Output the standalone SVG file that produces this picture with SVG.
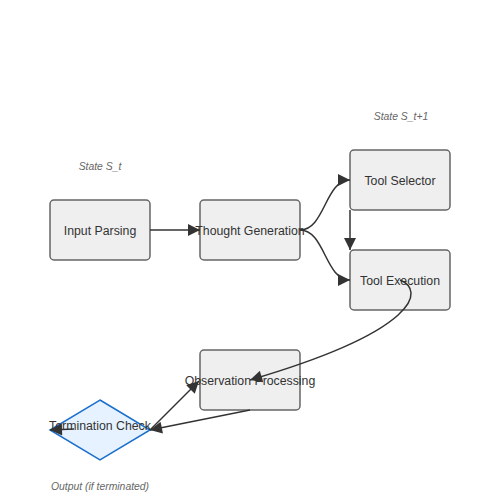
<svg xmlns="http://www.w3.org/2000/svg" width="500" height="500" viewBox="0 0 500 500">
<defs>
<marker id="arr" viewBox="0 0 10 10" refX="10" refY="5" markerWidth="15" markerHeight="12" markerUnits="userSpaceOnUse" orient="auto">
<path d="M0,0 L10,5 L0,10 Z" fill="#333"/>
</marker>
<style>
.box{fill:#efefef;stroke:#666;stroke-width:1.5}
.dia{fill:#e6f2ff;stroke:#1a6fcc;stroke-width:1.5}
.lbl{font-family:"Liberation Sans",Arial,sans-serif;font-size:12.3px;fill:#333;text-anchor:middle}
.note{font-family:"Liberation Sans",Arial,sans-serif;font-size:10.4px;font-style:italic;fill:#666;text-anchor:middle}
.edge{fill:none;stroke:#333;stroke-width:1.5;marker-end:url(#arr)}
</style>
</defs>
<rect width="500" height="500" fill="#fff"/>
<g id="notes">
<text class="note" x="100" y="170">State S_t</text>
<text class="note" x="401" y="120">State S_t+1</text>
<text class="note" x="100" y="490">Output (if terminated)</text>
</g>
<g id="n-input"><rect class="box" x="50" y="200" width="100" height="60" rx="4"/><text class="lbl" x="100" y="235">Input Parsing</text></g>
<g id="n-thought"><rect class="box" x="200" y="200" width="100" height="60" rx="4"/><text class="lbl" x="250" y="235">Thought Generation</text></g>
<g id="n-selector"><rect class="box" x="350" y="150" width="100" height="60" rx="4"/><text class="lbl" x="400" y="185">Tool Selector</text></g>
<g id="n-exec"><rect class="box" x="350" y="250" width="100" height="60" rx="4"/><text class="lbl" x="400" y="285">Tool Execution</text></g>
<g id="n-obs"><rect class="box" x="200" y="350" width="100" height="60" rx="4"/><text class="lbl" x="250" y="385">Observation Processing</text></g>
<g id="n-term"><path class="dia" d="M100,400 L150,430 L100,460 L50,430 Z"/><text class="lbl" x="100" y="430">Termination Check</text></g>
<g id="connectors">
<path class="edge" d="M150,230 L200,230"/>
<path class="edge" d="M300,230 C325,230 325,180 350,180"/>
<path class="edge" d="M300,230 C325,230 325,280 350,280"/>
<path class="edge" d="M350,210 L350,250"/>
<path class="edge" d="M400,280 C425,290 420,330 250,380"/>
<path class="edge" d="M250,410 L150,430"/>
<path class="edge" d="M150,430 L199,381"/>
<path class="edge" d="M74,429 L50,430"/>
</g>
</svg>
